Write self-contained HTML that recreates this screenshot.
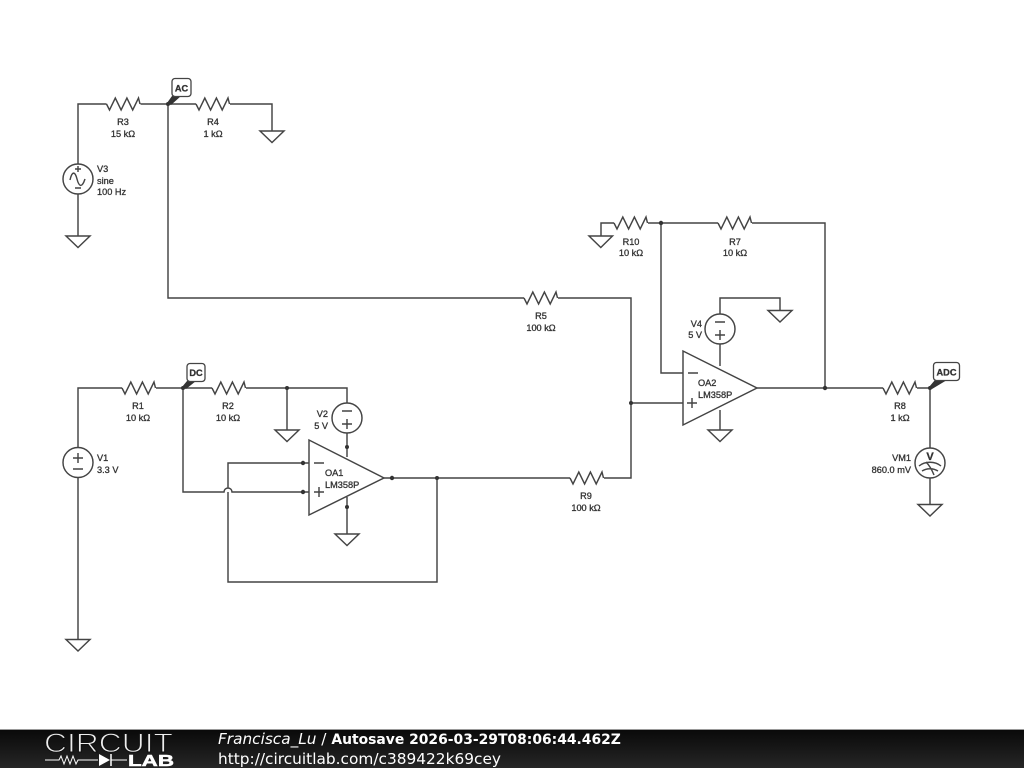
<!DOCTYPE html>
<html><head><meta charset="utf-8"><style>
html,body{margin:0;padding:0;background:#fff;width:1024px;height:768px;overflow:hidden}
svg{display:block;filter:blur(.3px)}
.w{fill:none;stroke:#444;stroke-width:1.45}
.l{font-family:"Liberation Sans",sans-serif;font-size:9.2px;fill:#333;stroke:#333;stroke-width:.3;text-anchor:middle}
.f{font-family:"DejaVu Sans",sans-serif;font-size:15.3px;fill:#fff}
</style></head><body>
<svg width="1024" height="768" viewBox="0 0 1024 768" xmlns="http://www.w3.org/2000/svg">
<defs><linearGradient id="g" x1="0" y1="0" x2="0" y2="1"><stop offset="0" stop-color="#0a0a0a"/><stop offset="1" stop-color="#262626"/></linearGradient></defs>
<rect width="1024" height="768" fill="#fff"/>
<g class="w">
<!-- resistors -->
<path d="M106.5 104l3 6 5.800-12 5.800 12 5.800-12 5.800 12 5.800-12 1.500 6"/>
<path d="M196 104l3 6 5.800-12 5.800 12 5.800-12 5.800 12 5.800-12 1.500 6"/>
<path d="M122 388l3 6 5.800-12 5.800 12 5.800-12 5.800 12 5.800-12 1.500 6"/>
<path d="M212 388l3 6 5.800-12 5.800 12 5.800-12 5.800 12 5.800-12 1.500 6"/>
<path d="M614 223l3 6 5.800-12 5.800 12 5.800-12 5.800 12 5.800-12 1.500 6"/>
<path d="M718 223l3 6 5.800-12 5.800 12 5.800-12 5.800 12 5.800-12 1.500 6"/>
<path d="M524 298l3 6 5.800-12 5.800 12 5.800-12 5.800 12 5.800-12 1.500 6"/>
<path d="M570 478l3 6 5.800-12 5.800 12 5.800-12 5.800 12 5.800-12 1.500 6"/>
<path d="M883 388l3 6 5.800-12 5.800 12 5.800-12 5.800 12 5.800-12 1.500 6"/>
<!-- wires -->
<path d="M78 164V104H106.500M140.500 104H196M230 104H272V131M168 104V298H524M558 298H631V478H604M78 194V236"/>
<path d="M78 478V639M78 447V388H122M156 388H212M246 388H347V403M287 388V430M183 388V492H224a4 4 0 0 1 8 0H309M228 492V582H437V478M228 488V463H309M384 478H570M347 433V457M347 497V534"/>
<path d="M631 403H683M661 223V373H683M648 223H718M752 223H825V388M614 223H601V236M720 314V298H780V310M720 344V366M720 410V430M757 388H883M917 388H930V448M930 478V504"/>
<!-- grounds -->
<path d="M66 236H90L78 247.500ZM260 131H284L272 142.500ZM66 639.500H90L78 651ZM275 430H299L287 441.500ZM335 534H359L347 545.500ZM589 236H612.500L600.800 247.500ZM768 310.500H792L780 322ZM708 430H732L720 441.500ZM918 504.500H942L930 516Z"/>
<!-- opamps -->
<path d="M309 440V515L384 478ZM683 351V425L757 388Z"/>
<path d="M314 463H324M314 492H324M319 487V497M688 373H698M687 403H697M692 398V408"/>
<!-- sources -->
<circle cx="78" cy="179" r="15"/><circle cx="78" cy="462.500" r="15"/><circle cx="347" cy="418" r="15"/><circle cx="720" cy="329" r="15"/><circle cx="930" cy="463" r="15"/>
<path d="M70 180c2-9 5-9 7-1s5 9 8 0M78 166v6M75 169h6M75 188h6"/>
<path d="M73 458h10M78 453v10M73 469h10"/>
<path d="M342 411h10M342 424h10M347 419v10"/>
<path d="M715 322h10M715 335h10M720 330v10"/>
<path d="M919 466c6-5 16-5 22 0M922 471c5-3 11-3 16 0M926 462c3 3 6 8 8 13"/>
</g>
<!-- junctions -->
<g fill="#333">
<circle cx="168" cy="104" r="2"/><circle cx="183" cy="388" r="2"/><circle cx="287" cy="388" r="2"/><circle cx="303" cy="463" r="2.200"/><circle cx="303" cy="492" r="2.200"/><circle cx="347" cy="447" r="2"/><circle cx="347" cy="507" r="2"/><circle cx="392" cy="478" r="2.200"/><circle cx="437" cy="478" r="2"/><circle cx="631" cy="403" r="2"/><circle cx="661" cy="223" r="2.200"/><circle cx="825" cy="388" r="2.200"/><circle cx="930" cy="388" r="2"/>
<path d="M167 103L172 96H181L171 105ZM182 387L187 381H196L186 389ZM929 387L935 380H947L932 389Z"/>
</g>
<!-- flags -->
<g fill="#fff" stroke="#444" stroke-width="1.300">
<rect x="172" y="78.500" width="19" height="18" rx="3"/><rect x="187" y="363.500" width="18" height="18" rx="3"/><rect x="933.500" y="362.500" width="26" height="18" rx="3"/>
</g>
<g class="l">
<text x="181.500" y="91.500" font-weight="bold">AC</text>
<text x="196" y="376" font-weight="bold">DC</text>
<text x="946.500" y="375.500" font-weight="bold">ADC</text>
<text x="123" y="125">R3</text><text x="123" y="137">15 kΩ</text>
<text x="213" y="125">R4</text><text x="213" y="137">1 kΩ</text>
<text x="97" y="172" style="text-anchor:start">V3</text><text x="97" y="184" style="text-anchor:start">sine</text><text x="97" y="195" style="text-anchor:start">100 Hz</text>
<text x="138" y="409">R1</text><text x="138" y="421">10 kΩ</text>
<text x="228" y="409">R2</text><text x="228" y="421">10 kΩ</text>
<text x="97" y="461" style="text-anchor:start">V1</text><text x="97" y="473" style="text-anchor:start">3.3 V</text>
<text x="328" y="417" style="text-anchor:end">V2</text><text x="328" y="429" style="text-anchor:end">5 V</text>
<text x="325" y="476" style="text-anchor:start">OA1</text><text x="325" y="488" style="text-anchor:start">LM358P</text>
<text x="586" y="499">R9</text><text x="586" y="511">100 kΩ</text>
<text x="541" y="319">R5</text><text x="541" y="331">100 kΩ</text>
<text x="631" y="245">R10</text><text x="631" y="256">10 kΩ</text>
<text x="735" y="245">R7</text><text x="735" y="256">10 kΩ</text>
<text x="702" y="327" style="text-anchor:end">V4</text><text x="702" y="338" style="text-anchor:end">5 V</text>
<text x="698" y="386" style="text-anchor:start">OA2</text><text x="698" y="398" style="text-anchor:start">LM358P</text>
<text x="900" y="409">R8</text><text x="900" y="421">1 kΩ</text>
<text x="911" y="461" style="text-anchor:end">VM1</text><text x="911" y="473" style="text-anchor:end">860.0 mV</text>
<text x="930" y="460" style="font-size:11px;font-weight:bold">V</text>
</g>
<!-- footer -->
<rect x="0" y="730" width="1024" height="38" fill="url(#g)"/>
<rect x="0" y="729" width="1024" height="1" fill="#999"/>
<text x="44" y="752" font-family="Liberation Sans, sans-serif" font-size="26.500" fill="#eee" stroke="#111" stroke-width="1" textLength="129" lengthAdjust="spacingAndGlyphs">CIRCUIT</text>
<text x="128" y="766" font-family="Liberation Sans, sans-serif" font-size="16" font-weight="bold" fill="#fff" stroke="#fff" stroke-width=".5" textLength="46" lengthAdjust="spacingAndGlyphs">LAB</text>
<path d="M45 760H59l2-4 3 8 3-8 3 8 3-8 3 8 2-4H98M111 760H127" fill="none" stroke="#fff" stroke-width="1"/>
<path d="M99 754V766L110 760Z" fill="#fff"/><path d="M111 754V766" stroke="#fff" stroke-width="1.500"/>
<text class="f" x="218" y="744"><tspan font-style="italic">Francisca_Lu</tspan> / <tspan font-weight="bold" font-size="13.9">Autosave 2026-03-29T08:06:44.462Z</tspan></text>
<text class="f" x="218" y="764" textLength="283" lengthAdjust="spacingAndGlyphs">http://circuitlab.com/c389422k69cey</text>
</svg>
</body></html>
